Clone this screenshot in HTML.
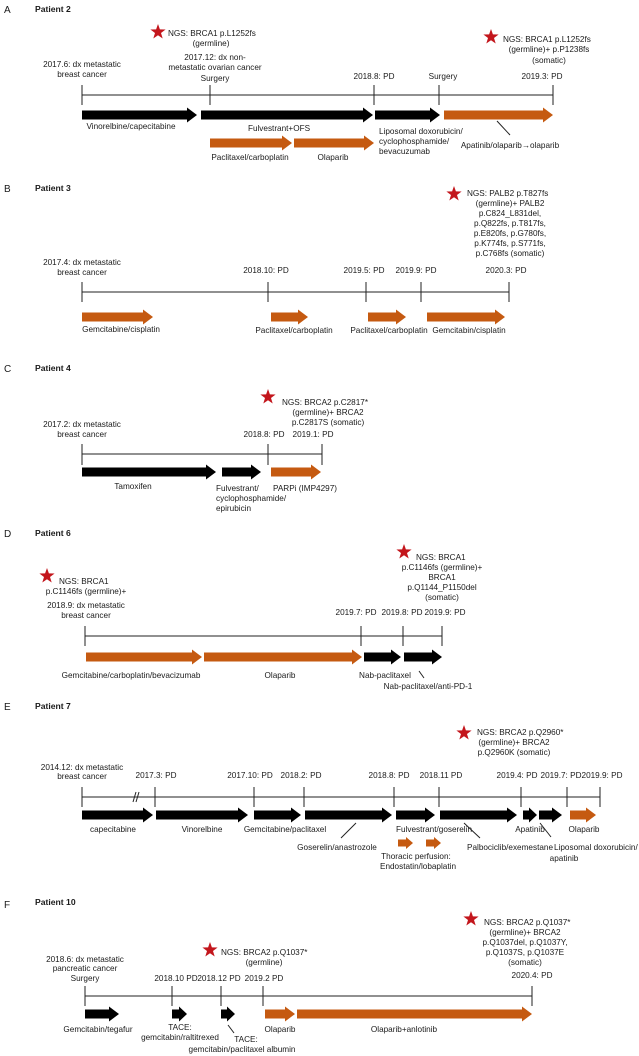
<!DOCTYPE html>
<html><head><meta charset="utf-8">
<style>
html,body{margin:0;padding:0;background:#fff;}
svg{display:block;}
text{font-family:"Liberation Sans",Arial,sans-serif;font-size:8.2px;fill:#1a1a1a;}
.b{font-weight:bold;font-size:8.6px;}
.L{font-size:10px;}
.m{text-anchor:middle;}
.k{fill:#000;}
.o{fill:#c55a11;}
.s{fill:#c3161c;}
.ln{stroke:#222;stroke-width:1;fill:none;}
</style></head><body>
<svg width="639" height="1056" viewBox="0 0 639 1056" xmlns="http://www.w3.org/2000/svg">
<defs>
<polygon id="st" points="0,-8 1.9,-2.6 7.6,-2.5 3.0,1.0 4.7,6.5 0,3.2 -4.7,6.5 -3.0,1.0 -7.6,-2.5 -1.9,-2.6"/>
</defs>

<!-- Panel A -->
<text x="4" y="13" class="L">A</text>
<text x="35" y="12" class="b">Patient 2</text>
<use href="#st" x="158" y="32" class="s"/>
<text x="168" y="36">NGS: BRCA1 p.L1252fs</text>
<text x="211" y="46" class="m">(germline)</text>
<text x="82" y="67" class="m">2017.6: dx metastatic</text>
<text x="82" y="77" class="m">breast cancer</text>
<text x="215" y="60" class="m">2017.12: dx non-</text>
<text x="215" y="70" class="m">metastatic ovarian cancer</text>
<text x="215" y="81" class="m">Surgery</text>
<text x="374" y="79" class="m">2018.8: PD</text>
<text x="443" y="79" class="m">Surgery</text>
<text x="542" y="79" class="m">2019.3: PD</text>
<use href="#st" x="491" y="37" class="s"/>
<text x="503" y="42">NGS:  BRCA1 p.L1252fs</text>
<text x="549" y="52" class="m">(germline)+ p.P1238fs</text>
<text x="549" y="63" class="m">(somatic)</text>
<path class="ln" d="M82 95H553M82 85V105M210 85V105M374 85V105M439 85V105M553 85V105"/>
<path class="k" d="M82 110.5H187V107.5L197 115L187 122.5V119.5H82Z"/>
<path class="k" d="M201 110.5H363V107.5L373 115L363 122.5V119.5H201Z"/>
<path class="k" d="M375 110.5H430V107.5L440 115L430 122.5V119.5H375Z"/>
<path class="o" d="M444 110.5H543V107.5L553 115L543 122.5V119.5H444Z"/>
<path class="o" d="M210 138.5H282V135.5L292 143L282 150.5V147.5H210Z"/>
<path class="o" d="M294 138.5H364V135.5L374 143L364 150.5V147.5H294Z"/>
<text x="131" y="129" class="m">Vinorelbine/capecitabine</text>
<text x="279" y="131" class="m">Fulvestrant+OFS</text>
<text x="250" y="160" class="m">Paclitaxel/carboplatin</text>
<text x="333" y="160" class="m">Olaparib</text>
<text x="379" y="134">Liposomal doxorubicin/</text>
<text x="379" y="144">cyclophosphamide/</text>
<text x="379" y="154">bevacuzumab</text>
<text x="510" y="148" class="m">Apatinib/olaparib→olaparib</text>
<path class="ln" d="M497 121L510 135"/>

<!-- Panel B -->
<text x="4" y="192" class="L">B</text>
<text x="35" y="191" class="b">Patient 3</text>
<use href="#st" x="454" y="194" class="s"/>
<text x="467" y="196">NGS:  PALB2 p.T827fs</text>
<text x="510" y="206" class="m">(germline)+ PALB2</text>
<text x="510" y="216" class="m">p.C824_L831del,</text>
<text x="510" y="226" class="m">p.Q822fs, p.T817fs,</text>
<text x="510" y="236" class="m">p.E820fs, p.G780fs,</text>
<text x="510" y="246" class="m">p.K774fs, p.S771fs,</text>
<text x="510" y="256" class="m">p.C768fs (somatic)</text>
<text x="82" y="265" class="m">2017.4: dx metastatic</text>
<text x="82" y="275" class="m">breast cancer</text>
<text x="266" y="273" class="m">2018.10: PD</text>
<text x="364" y="273" class="m">2019.5: PD</text>
<text x="416" y="273" class="m">2019.9: PD</text>
<text x="506" y="273" class="m">2020.3: PD</text>
<path class="ln" d="M82 292H509M82 282V302M268 282V302M366 282V302M421 282V302M509 282V302"/>
<path class="o" d="M82 312.5H143V309.5L153 317L143 324.5V321.5H82Z"/>
<path class="o" d="M271 312.5H298V309.5L308 317L298 324.5V321.5H271Z"/>
<path class="o" d="M368 312.5H396V309.5L406 317L396 324.5V321.5H368Z"/>
<path class="o" d="M427 312.5H495V309.5L505 317L495 324.5V321.5H427Z"/>
<text x="121" y="332" class="m">Gemcitabine/cisplatin</text>
<text x="294" y="333" class="m">Paclitaxel/carboplatin</text>
<text x="389" y="333" class="m">Paclitaxel/carboplatin</text>
<text x="469" y="333" class="m">Gemcitabin/cisplatin</text>

<!-- Panel C -->
<text x="4" y="372" class="L">C</text>
<text x="35" y="371" class="b">Patient 4</text>
<use href="#st" x="268" y="397" class="s"/>
<text x="282" y="405">NGS:  BRCA2 p.C2817*</text>
<text x="328" y="415" class="m">(germline)+ BRCA2</text>
<text x="328" y="425" class="m">p.C2817S (somatic)</text>
<text x="82" y="427" class="m">2017.2: dx metastatic</text>
<text x="82" y="437" class="m">breast cancer</text>
<text x="264" y="437" class="m">2018.8: PD</text>
<text x="313" y="437" class="m">2019.1: PD</text>
<path class="ln" d="M82 454H322M82 444V465M268 444V465M322 444V465"/>
<path class="k" d="M82 467.5H206V464.5L216 472L206 479.5V476.5H82Z"/>
<path class="k" d="M222 467.5H251V464.5L261 472L251 479.5V476.5H222Z"/>
<path class="o" d="M271 467.5H311V464.5L321 472L311 479.5V476.5H271Z"/>
<text x="133" y="489" class="m">Tamoxifen</text>
<text x="216" y="491">Fulvestrant/</text>
<text x="216" y="501">cyclophosphamide/</text>
<text x="216" y="511">epirubicin</text>
<text x="305" y="491" class="m">PARPi (IMP4297)</text>

<!-- Panel D -->
<text x="4" y="537" class="L">D</text>
<text x="35" y="536" class="b">Patient 6</text>
<use href="#st" x="47" y="576" class="s"/>
<text x="59" y="584">NGS:  BRCA1</text>
<text x="86" y="594" class="m">p.C1146fs (germline)+</text>
<text x="86" y="608" class="m">2018.9: dx metastatic</text>
<text x="86" y="618" class="m">breast cancer</text>
<use href="#st" x="404" y="552" class="s"/>
<text x="416" y="560">NGS:  BRCA1</text>
<text x="442" y="570" class="m">p.C1146fs (germline)+</text>
<text x="442" y="580" class="m">BRCA1</text>
<text x="442" y="590" class="m">p.Q1144_P1150del</text>
<text x="442" y="600" class="m">(somatic)</text>
<text x="356" y="615" class="m">2019.7: PD</text>
<text x="402" y="615" class="m">2019.8: PD</text>
<text x="445" y="615" class="m">2019.9: PD</text>
<path class="ln" d="M85 636H442M85 626V646M361 626V646M403 626V646M442 626V646"/>
<path class="o" d="M86 652.5H192V649.5L202 657L192 664.5V661.5H86Z"/>
<path class="o" d="M204 652.5H352V649.5L362 657L352 664.5V661.5H204Z"/>
<path class="k" d="M364 652.5H391V649.5L401 657L391 664.5V661.5H364Z"/>
<path class="k" d="M404 652.5H432V649.5L442 657L432 664.5V661.5H404Z"/>
<text x="131" y="678" class="m">Gemcitabine/carboplatin/bevacizumab</text>
<text x="280" y="678" class="m">Olaparib</text>
<text x="385" y="678" class="m">Nab-paclitaxel</text>
<text x="428" y="689" class="m">Nab-paclitaxel/anti-PD-1</text>
<path class="ln" d="M419 671L424 678"/>

<!-- Panel E -->
<text x="4" y="710" class="L">E</text>
<text x="35" y="709" class="b">Patient 7</text>
<use href="#st" x="464" y="733" class="s"/>
<text x="477" y="735">NGS:  BRCA2 p.Q2960*</text>
<text x="514" y="745" class="m">(germline)+ BRCA2</text>
<text x="514" y="755" class="m">p.Q2960K (somatic)</text>
<text x="82" y="770" class="m">2014.12: dx metastatic</text>
<text x="82" y="779" class="m">breast cancer</text>
<text x="156" y="778" class="m">2017.3: PD</text>
<text x="250" y="778" class="m">2017.10: PD</text>
<text x="301" y="778" class="m">2018.2: PD</text>
<text x="389" y="778" class="m">2018.8: PD</text>
<text x="441" y="778" class="m">2018.11 PD</text>
<text x="517" y="778" class="m">2019.4: PD</text>
<text x="561" y="778" class="m">2019.7: PD</text>
<text x="602" y="778" class="m">2019.9: PD</text>
<path class="ln" d="M82 797H600M82 787V807M155 787V807M254 787V807M304 787V807M394 787V807M439 787V807M521 787V807M567 787V807M600 787V807"/>
<path class="ln" d="M133 802L136 792M136 802L139 792"/>
<path class="k" d="M82 810.5H143V807.5L153 815L143 822.5V819.5H82Z"/>
<path class="k" d="M156 810.5H238V807.5L248 815L238 822.5V819.5H156Z"/>
<path class="k" d="M254 810.5H291V807.5L301 815L291 822.5V819.5H254Z"/>
<path class="k" d="M305 810.5H382V807.5L392 815L382 822.5V819.5H305Z"/>
<path class="k" d="M396 810.5H425V807.5L435 815L425 822.5V819.5H396Z"/>
<path class="k" d="M440 810.5H507V807.5L517 815L507 822.5V819.5H440Z"/>
<path class="k" d="M523 810.5H529V807.5L537 815L529 822.5V819.5H523Z"/>
<path class="k" d="M539 810.5H552V807.5L562 815L552 822.5V819.5H539Z"/>
<path class="o" d="M570 810.5H586V807.5L596 815L586 822.5V819.5H570Z"/>
<path class="o" d="M398 839.5H406V837L413 843L406 849V846.5H398Z"/>
<path class="o" d="M426 839.5H434V837L441 843L434 849V846.5H426Z"/>
<text x="113" y="832" class="m">capecitabine</text>
<text x="202" y="832" class="m">Vinorelbine</text>
<text x="285" y="832" class="m">Gemcitabine/paclitaxel</text>
<text x="434" y="832" class="m">Fulvestrant/goserelin</text>
<text x="530" y="832" class="m">Apatinib</text>
<text x="584" y="832" class="m">Olaparib</text>
<text x="337" y="850" class="m">Goserelin/anastrozole</text>
<text x="510" y="850" class="m">Palbociclib/exemestane</text>
<text x="554" y="850">Liposomal doxorubicin/</text>
<text x="564" y="861" class="m">apatinib</text>
<text x="416" y="859" class="m">Thoracic perfusion:</text>
<text x="418" y="869" class="m">Endostatin/lobaplatin</text>
<path class="ln" d="M356 823L341 838M464 823L480 838M540 823L551 837"/>

<!-- Panel F -->
<text x="4" y="908" class="L">F</text>
<text x="35" y="905" class="b">Patient 10</text>
<use href="#st" x="210" y="950" class="s"/>
<text x="221" y="955">NGS: BRCA2 p.Q1037*</text>
<text x="264" y="965" class="m">(germline)</text>
<use href="#st" x="471" y="919" class="s"/>
<text x="484" y="925">NGS: BRCA2 p.Q1037*</text>
<text x="525" y="935" class="m">(germline)+ BRCA2</text>
<text x="525" y="945" class="m">p.Q1037del, p.Q1037Y,</text>
<text x="525" y="955" class="m">p.Q1037S, p.Q1037E</text>
<text x="525" y="965" class="m">(somatic)</text>
<text x="85" y="962" class="m">2018.6: dx metastatic</text>
<text x="85" y="971" class="m">pancreatic cancer</text>
<text x="85" y="981" class="m">Surgery</text>
<text x="176" y="981" class="m">2018.10 PD</text>
<text x="219" y="981" class="m">2018.12 PD</text>
<text x="264" y="981" class="m">2019.2 PD</text>
<text x="532" y="978" class="m">2020.4: PD</text>
<path class="ln" d="M85 996H532M85 986V1006M172 986V1006M221 986V1006M263 986V1006M532 986V1006"/>
<path class="k" d="M85 1009.5H109V1006.5L119 1014L109 1021.5V1018.5H85Z"/>
<path class="k" d="M172 1009.5H179V1006.5L187 1014L179 1021.5V1018.5H172Z"/>
<path class="k" d="M221 1009.5H227V1006.5L235 1014L227 1021.5V1018.5H221Z"/>
<path class="o" d="M265 1009.5H285V1006.5L295 1014L285 1021.5V1018.5H265Z"/>
<path class="o" d="M297 1009.5H522V1006.5L532 1014L522 1021.5V1018.5H297Z"/>
<text x="98" y="1032" class="m">Gemcitabin/tegafur</text>
<text x="180" y="1030" class="m">TACE:</text>
<text x="180" y="1040" class="m">gemcitabin/raltitrexed</text>
<text x="280" y="1032" class="m">Olaparib</text>
<text x="404" y="1032" class="m">Olaparib+anlotinib</text>
<text x="246" y="1042" class="m">TACE:</text>
<text x="242" y="1052" class="m">gemcitabin/paclitaxel albumin</text>
<path class="ln" d="M228 1025L234 1033"/>
</svg>
</body></html>
